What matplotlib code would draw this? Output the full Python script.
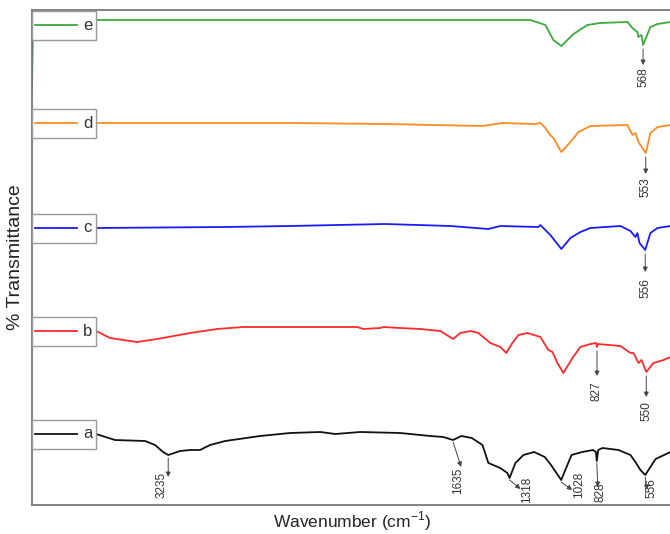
import matplotlib
matplotlib.use('Agg')
import matplotlib.pyplot as plt
import numpy as np
from matplotlib.patches import Rectangle
from matplotlib.transforms import offset_copy, blended_transform_factory

plt.rcParams['font.family'] = ['Liberation Sans', 'DejaVu Sans']

# wavenumber (cm-1) / stacked transmittance
wn_a = [3640, 3534, 3365, 3309, 3264, 3235, 3168, 3112, 3056, 3000, 2915, 2719,
        2550, 2381, 2297, 2156, 1932, 1763, 1690, 1635, 1588, 1530, 1470, 1437,
        1370, 1330, 1318, 1285, 1240, 1180, 1120, 1085, 1028, 970, 910, 850,
        833, 828, 820, 796, 706, 639, 611, 583, 556, 498, 414]
t_a = [71, 65, 64, 60, 53, 50, 54, 55, 55, 60, 64, 69,
       72, 73, 71, 73, 72, 69, 68, 65, 69, 67, 60, 42,
       37, 32, 27, 42, 50, 53, 48, 40, 25, 50, 53, 55,
       53, 44, 55, 57, 55, 50, 43, 35, 30, 46, 53]

wn_b = [3640, 3562, 3410, 3297, 3112, 2960, 2814, 2550, 2173, 2140, 2044, 2027,
        1932, 1819, 1707, 1635, 1594, 1538, 1493, 1426, 1370, 1336, 1302, 1268,
        1218, 1145, 1100, 1077, 1049, 1016, 965, 920, 864, 832, 827, 822,
        695, 639, 622, 594, 577, 550, 510, 453, 414]
t_b = [174, 167, 163, 166, 172, 176, 178, 178, 178, 176, 177, 178,
       177, 176, 174, 166, 172, 174, 172, 162, 158, 152, 162, 170,
       172, 168, 155, 153, 142, 132, 147, 158, 161, 162, 158, 161,
       159, 152, 152, 142, 145, 133, 142, 145, 148]

wn_c = [3640, 2915, 2550, 2016, 1651, 1437, 1370, 1156, 1145, 1117, 1089, 1027,
        976, 920, 864, 695, 639, 611, 600, 588, 556, 527, 487, 414]
t_c = [277, 278, 279, 281, 279, 276, 279, 278, 280, 275, 270, 256,
       267, 273, 277, 279, 274, 268, 272, 262, 255, 272, 277, 279]

wn_d = [3640, 2550, 2016, 1471, 1358, 1173, 1145, 1117, 1089, 1072, 1027, 976,
        931, 864, 656, 628, 611, 594, 553, 527, 487, 414]
t_d = [382, 382, 381, 379, 382, 381, 382, 377, 370, 367, 353, 363,
       373, 379, 380, 370, 372, 363, 352, 372, 378, 380]

wn_e = [4000, 3994, 3640, 2550, 1201, 1117, 1072, 1027, 993, 959, 881, 808,
        656, 628, 600, 594, 577, 568, 527, 487, 414]
t_e = [415, 485, 485, 485, 485, 480, 465, 459, 465, 471, 480, 482,
       483, 477, 473, 468, 470, 460, 478, 481, 483]

names = ['a', 'b', 'c', 'd', 'e']
colours = ['#111111', '#ff2a2a', '#1a1aff', '#ff8a1e', '#3aaa3a']

peak_labels = ['3235', '1635', '1318', '1028', '828', '556', '827', '550', '556', '553', '568']
peak_wn = [3235, 1635, 1318, 1028, 828, 556, 827, 550, 556, 553, 568]
peak_trace = [0, 0, 0, 0, 0, 0, 1, 1, 2, 3, 4]

# layout only: arrow start / tip and text anchor, pixel offsets from the peak (y down)
arrow_start = [(0, 3), (0, 2), (0, 2), (0, 2), (0, 2), (0, 2), (0, 4), (0, 4), (0, 4), (0, 4), (0, 4)]
arrow_tip = [(0, 22), (8, 27), (11, 11), (11, 10), (1, 26), (2, 15), (0, 29), (0, 25), (0, 22), (0, 21), (0, 20)]
text_at = [(-7, 17), (5, 28), (18, -1), (18, -8), (4, 22), (6, 3), (0, 34), (0, 29), (0, 28), (0, 24), (0, 22)]

fig = plt.figure(figsize=(6.7, 5.34), dpi=100)
ax = fig.add_axes([32 / 670, 29 / 534, 641 / 670, 495 / 534])

traces = list(zip([wn_a, wn_b, wn_c, wn_d, wn_e], [t_a, t_b, t_c, t_d, t_e]))
for (w, t), c in zip(traces, colours):
    ax.plot(w, t, color=c, lw=1.3, zorder=2)

ax.set_xlim(4000, 400)
ax.set_ylim(0, 495)
ax.set_xticks([])
ax.set_yticks([])
for s in ax.spines.values():
    s.set_color('#777777')
    s.set_linewidth(1.3)

# little label boxes at the left of every trace
blend = blended_transform_factory(ax.transAxes, ax.transData)
for (w, t), c, n in zip(traces, colours, names):
    lvl = min(np.interp(3640, w[::-1], t[::-1]), 495 - 15)
    ax.add_patch(Rectangle((0, lvl - 14.5), 0.1, 29, transform=blend,
                           facecolor='white', edgecolor='#999999', lw=1.0, zorder=3))
    ax.plot([0.005, 0.07], [lvl, lvl], color=c, lw=1.3, transform=blend, zorder=4)
    ax.text(0.087, lvl, n, transform=blend, ha='center', va='center',
            fontsize=12, color='#333333', zorder=4)

# peak markers
for lab, pw, k, a0, a1, tx in zip(peak_labels, peak_wn, peak_trace, arrow_start, arrow_tip, text_at):
    w, t = traces[k]
    pt = np.interp(pw, w[::-1], t[::-1])
    start = offset_copy(ax.transData, fig=fig, x=a0[0], y=-a0[1], units='dots')
    tip = offset_copy(ax.transData, fig=fig, x=a1[0], y=-a1[1], units='dots')
    ax.annotate('', xy=(pw, pt), xycoords=tip, xytext=(pw, pt), textcoords=start,
                arrowprops=dict(arrowstyle='-|>', color='#444444', lw=0.7,
                                shrinkA=0, shrinkB=0, mutation_scale=7), zorder=5)
    tt = offset_copy(ax.transData, fig=fig, x=tx[0], y=-tx[1], units='dots')
    ax.text(pw, pt, lab, transform=tt, rotation=90, ha='center', va='top',
            fontsize=8.5, color='#333333', zorder=5)

ax.set_xlabel('Wavenumber (cm$^{\\mathregular{-1}}$)', fontsize=12.5, labelpad=3, color='#222222')
ax.set_ylabel('% Transmittance', fontsize=14, labelpad=6, color='#222222')

fig.savefig('out.png', dpi=100)
